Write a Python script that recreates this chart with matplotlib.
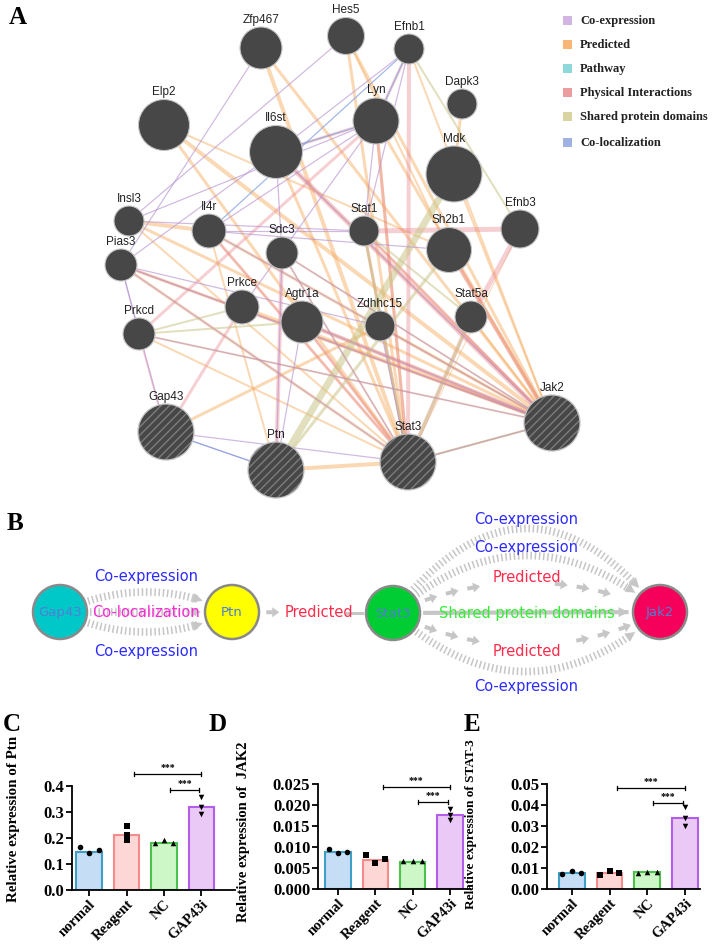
import numpy as np
import matplotlib
matplotlib.use("Agg")
import matplotlib.pyplot as plt
from matplotlib.patches import Circle, Rectangle, Polygon

W, H = 712, 946

# ---------------- panel A: GeneMANIA network ----------------
genes = ["Zfp467", "Hes5", "Efnb1", "Dapk3", "Elp2", "Il6st", "Lyn", "Mdk",
         "Insl3", "Il4r", "Sdc3", "Stat1", "Sh2b1", "Efnb3", "Pias3", "Prkce",
         "Agtr1a", "Zdhhc15", "Stat5a", "Prkcd", "Gap43", "Ptn", "Stat3", "Jak2"]
gene_score = [21, 18.5, 15, 15, 25.5, 26.5, 23, 28, 15, 17, 16, 15, 22.5, 19,
              16, 17, 21, 15, 16, 16, 28, 28, 28, 28]
query_genes = ["Gap43", "Ptn", "Stat3", "Jak2"]

network_types = ["Co-expression", "Predicted", "Pathway", "Physical Interactions",
                 "Shared protein domains", "Co-localization"]

predicted_links = [
    ("Zfp467", "Stat3", 4), ("Zfp467", "Jak2", 3), ("Hes5", "Stat3", 3), ("Hes5", "Jak2", 3),
    ("Elp2", "Jak2", 4), ("Elp2", "Stat3", 3), ("Elp2", "Sh2b1", 2), ("Il6st", "Stat3", 3),
    ("Il6st", "Jak2", 2), ("Insl3", "Il4r", 4), ("Insl3", "Jak2", 3), ("Insl3", "Stat3", 2),
    ("Il4r", "Jak2", 3), ("Il4r", "Stat3", 2), ("Il4r", "Ptn", 2), ("Pias3", "Jak2", 3),
    ("Pias3", "Stat3", 3), ("Prkcd", "Stat3", 2), ("Prkce", "Jak2", 3), ("Agtr1a", "Jak2", 3),
    ("Agtr1a", "Stat3", 2), ("Lyn", "Jak2", 3), ("Lyn", "Stat3", 3), ("Efnb1", "Jak2", 2),
    ("Mdk", "Jak2", 2), ("Dapk3", "Mdk", 3), ("Sh2b1", "Jak2", 3), ("Stat5a", "Jak2", 2),
    ("Stat1", "Jak2", 2), ("Gap43", "Zdhhc15", 3), ("Ptn", "Stat3", 4), ("Stat3", "Jak2", 2),
    ("Sdc3", "Jak2", 2), ("Zdhhc15", "Jak2", 2), ("Sdc3", "Stat3", 2), ("Hes5", "Sh2b1", 2),
    ("Prkcd", "Jak2", 2), ("Efnb3", "Stat3", 1), ("Stat1", "Stat3", 2),
]
physical_links = [
    ("Efnb1", "Stat3", 4), ("Stat1", "Efnb3", 5), ("Efnb3", "Stat5a", 5), ("Sh2b1", "Jak2", 4),
    ("Il6st", "Jak2", 5), ("Il6st", "Lyn", 3), ("Lyn", "Stat3", 3), ("Prkcd", "Gap43", 2),
    ("Prkcd", "Lyn", 3), ("Gap43", "Prkce", 3), ("Ptn", "Sdc3", 4), ("Stat1", "Stat3", 3),
    ("Stat5a", "Stat3", 4), ("Agtr1a", "Jak2", 4), ("Stat1", "Jak2", 3), ("Efnb1", "Lyn", 3),
    ("Il4r", "Stat3", 3), ("Pias3", "Jak2", 2), ("Agtr1a", "Stat3", 3),
]
shared_links = [
    ("Ptn", "Mdk", 7), ("Efnb1", "Efnb3", 2), ("Stat1", "Stat3", 3), ("Stat5a", "Stat3", 3),
    ("Prkcd", "Prkce", 2), ("Ptn", "Sh2b1", 3), ("Stat3", "Jak2", 2), ("Stat1", "Stat5a", 2),
    ("Prkcd", "Agtr1a", 2),
]
coexpression_links = [
    ("Zfp467", "Pias3"), ("Hes5", "Insl3"), ("Efnb1", "Il6st"), ("Lyn", "Insl3"), ("Lyn", "Il4r"),
    ("Il6st", "Pias3"), ("Pias3", "Jak2"), ("Pias3", "Stat3"), ("Prkcd", "Jak2"), ("Il4r", "Jak2"),
    ("Il4r", "Stat1"), ("Sdc3", "Stat3"), ("Gap43", "Ptn"), ("Stat3", "Jak2"), ("Ptn", "Agtr1a"),
    ("Il6st", "Sdc3"), ("Efnb1", "Stat1"), ("Lyn", "Stat1"), ("Agtr1a", "Jak2"), ("Zdhhc15", "Stat3"),
    ("Prkcd", "Pias3"), ("Pias3", "Zdhhc15"), ("Il6st", "Jak2"), ("Il4r", "Sh2b1"), ("Lyn", "Prkce"),
    ("Gap43", "Pias3"), ("Sdc3", "Ptn"), ("Insl3", "Stat1"), ("Gap43", "Stat3"), ("Sdc3", "Jak2"),
]
colocalization_links = [("Gap43", "Ptn"), ("Efnb1", "Il4r"), ("Lyn", "Il6st"), ("Efnb1", "Lyn")]

# node layout (pixels)
node_xy = {
    "Zfp467": (261, 48), "Hes5": (346, 36), "Efnb1": (409, 49), "Dapk3": (462, 104),
    "Elp2": (164, 125), "Il6st": (276, 152), "Lyn": (376, 121), "Mdk": (454, 174),
    "Insl3": (129, 221), "Il4r": (209, 231), "Sdc3": (282, 253), "Stat1": (364, 231),
    "Sh2b1": (449, 250), "Efnb3": (520, 229), "Pias3": (121, 265), "Prkce": (242, 307),
    "Agtr1a": (302, 322), "Zdhhc15": (380, 326), "Stat5a": (471, 317), "Prkcd": (139, 334),
    "Gap43": (166, 432), "Ptn": (276, 470), "Stat3": (408, 462), "Jak2": (552, 423),
}

# ---------------- panel B: paths Gap43 -> Jak2 ----------------
path_nodes = ["Gap43", "Ptn", "Stat3", "Jak2"]
path_node_colors = ["#00c8c8", "#ffff00", "#00cc33", "#f5005a"]
path_links = [
    ("Gap43", "Ptn", "Co-expression"), ("Gap43", "Ptn", "Co-localization"),
    ("Gap43", "Ptn", "Co-expression"), ("Ptn", "Stat3", "Predicted"),
    ("Stat3", "Jak2", "Co-expression"), ("Stat3", "Jak2", "Co-expression"),
    ("Stat3", "Jak2", "Predicted"), ("Stat3", "Jak2", "Shared protein domains"),
    ("Stat3", "Jak2", "Predicted"), ("Stat3", "Jak2", "Co-expression"),
]
# bend of each arc and label offset (pixels)
path_bend = [-40, 0, 40, 0, -168, -114, -60, 0, 66, 118]
path_label_dy = [-16, 0, 19, 0, -10, -9, -6, 0, 5, 14]
path_xy = {"Gap43": (60, 612), "Ptn": (232, 612), "Stat3": (393, 613), "Jak2": (660, 612)}

# ---------------- panels C-E: qPCR ----------------
groups = ["normal", "Reagent", "NC", "GAP43i"]
ptn_mean = [0.148, 0.213, 0.182, 0.320]
ptn_reps = [[0.164, 0.141, 0.152], [0.245, 0.212, 0.193], [0.180, 0.192, 0.180], [0.356, 0.318, 0.294]]
jak2_mean = [0.0089, 0.0070, 0.0065, 0.0177]
jak2_reps = [[0.0095, 0.0085, 0.0088], [0.0080, 0.0063, 0.0071], [0.0066, 0.0066, 0.0066], [0.0190, 0.0176, 0.0164]]
stat3_mean = [0.0078, 0.0076, 0.0079, 0.0338]
stat3_reps = [[0.0072, 0.0085, 0.0078], [0.0068, 0.0087, 0.0077], [0.0076, 0.0082, 0.0079], [0.0390, 0.0340, 0.0300]]

fig = plt.figure(figsize=(W / 100, H / 100), dpi=100)
ax = fig.add_axes([0, 0, 1, 1])
ax.set_xlim(0, W)
ax.set_ylim(H, 0)
ax.axis("off")

serif = "Liberation Serif"
sans = "Liberation Sans"
plt.rcParams["hatch.linewidth"] = 1.0

# network links
link_style = {
    "Predicted": ("#f5a95a", 0.45),
    "Physical Interactions": ("#e98790", 0.4),
    "Shared protein domains": ("#cbc689", 0.55),
    "Co-expression": ("#b793d0", 0.65),
    "Co-localization": ("#7f9ee0", 0.75),
}


def draw_links(links, kind):
    col, alpha = link_style[kind]
    for link in links:
        w = link[2] if len(link) > 2 else 1.2
        (x0, y0), (x1, y1) = node_xy[link[0]], node_xy[link[1]]
        ax.plot([x0, x1], [y0, y1], color=col, alpha=alpha, lw=w * 0.72,
                solid_capstyle="butt", zorder=1)


draw_links(predicted_links, "Predicted")
draw_links(physical_links, "Physical Interactions")
draw_links(shared_links, "Shared protein domains")
draw_links(coexpression_links, "Co-expression")
draw_links(colocalization_links, "Co-localization")

for g, r in zip(genes, gene_score):
    x, y = node_xy[g]
    if g in query_genes:
        ax.add_patch(Circle((x, y), r, fc="#474747", ec="#7d7d7d", lw=0, hatch="////", zorder=3))
        ax.add_patch(Circle((x, y), r, fill=False, ec="#c4c4c4", lw=0.9, zorder=4))
    else:
        ax.add_patch(Circle((x, y), r, fc="#474747", ec="#c4c4c4", lw=0.8, zorder=3))
    ax.text(x, y - r - 1.5, g, ha="center", va="bottom", fontsize=8.5, family=sans,
            color="#222222", zorder=5)

legend_colors = ["#d3b5e3", "#f9b776", "#8dd8da", "#eb9c9c", "#d9d3a2", "#9fb2e3"]
legend_y = [21, 45, 69, 93, 117, 143]
for name, col, ly in zip(network_types, legend_colors, legend_y):
    ax.add_patch(Rectangle((563, ly - 4.5), 9, 9, fc=col, ec="none"))
    ax.text(580, ly, name, ha="left", va="center", fontsize=9, family=serif,
            weight="bold", color="#222222")

# ---------------- panel B drawing ----------------
label_colors = {"Co-expression": "#2b2bff", "Co-localization": "#ff2bd6",
                "Predicted": "#ff2b4b", "Shared protein domains": "#33ee33"}
gray = "#c6c6c6"
rB = 27


def curve(p0, p2, bend, r0, r2, n=400):
    p0, p2 = np.array(p0, float), np.array(p2, float)
    c = (p0 + p2) / 2 + np.array([0, bend])
    t = np.linspace(0, 1, n)[:, None]
    pts = (1 - t) ** 2 * p0 + 2 * (1 - t) * t * c + t ** 2 * p2
    keep = (np.hypot(*(pts - p0).T) > r0 + 3) & (np.hypot(*(pts - p2).T) > r2 + 4)
    return pts[keep]


def arrow_head(tip, u, length=10, width=10):
    perp = np.array([-u[1], u[0]])
    base = tip - length * u
    ax.add_patch(Polygon([tip, base + perp * width / 2, base - perp * width / 2],
                         closed=True, fc=gray, ec="none", zorder=2))


def block_arrows(pts, skip_x, skip_w, spacing=22, length=13):
    seg = np.hypot(*np.diff(pts, axis=0).T)
    s = np.concatenate([[0], np.cumsum(seg)])
    pos = 4.0
    while pos + length < s[-1]:
        a = np.array([np.interp(pos, s, pts[:, 0]), np.interp(pos, s, pts[:, 1])])
        b = np.array([np.interp(pos + length, s, pts[:, 0]), np.interp(pos + length, s, pts[:, 1])])
        mid = (a + b) / 2
        if abs(mid[0] - skip_x) > skip_w:
            u = (b - a) / np.linalg.norm(b - a)
            perp = np.array([-u[1], u[0]])
            k = a + u * 6
            poly = [a + perp * 2, k + perp * 2, k + perp * 5, b, k - perp * 5, k - perp * 2, a - perp * 2]
            ax.add_patch(Polygon(poly, closed=True, fc=gray, ec="none", zorder=2))
        pos += spacing


for (src, dst, kind), bend, ldy in zip(path_links, path_bend, path_label_dy):
    pts = curve(path_xy[src], path_xy[dst], bend, rB, rB)
    lx = (path_xy[src][0] + path_xy[dst][0]) / 2
    ly = path_xy[src][1] + bend / 2 + ldy
    half = len(kind) * 3.4 + 4
    if kind == "Predicted":
        block_arrows(pts, lx + (6 if bend == 0 else 0), half)
        if bend == 0:
            ax.plot([lx + half, pts[-1, 0]], [pts[-1, 1]] * 2, color=gray, lw=2.2, zorder=2)
    elif kind == "Shared protein domains":
        ax.plot(pts[:, 0], pts[:, 1], color=gray, lw=3, solid_capstyle="butt", zorder=2)
        u = pts[-1] - pts[-6]
        arrow_head(pts[-1], u / np.linalg.norm(u))
    else:
        ax.plot(pts[:-8, 0], pts[:-8, 1], color=gray, lw=5.5, ls=(0, (0.2, 0.35)),
                solid_capstyle="butt", dash_capstyle="butt", zorder=2)
        u = pts[-1] - pts[-6]
        arrow_head(pts[-1], u / np.linalg.norm(u))
    if kind == "Predicted" and bend == 0:
        lx += 6
    ax.text(lx, ly, kind, ha="center", va="center", fontsize=10.5, family="DejaVu Sans",
            color=label_colors[kind], zorder=4)

for name, col in zip(path_nodes, path_node_colors):
    x, y = path_xy[name]
    ax.add_patch(Circle((x, y), rB, fc=col, ec="#8a8a8a", lw=1.8, zorder=3))
    ax.text(x, y, name, ha="center", va="center", fontsize=9.5, family="DejaVu Sans",
            color="#4f7fd6", zorder=4)

# panel letters
for letter, (lx, ly) in zip("ABCDE", [(18, 17), (15, 523), (12, 724), (218, 724), (472, 724)]):
    ax.text(lx, ly, letter, ha="center", va="center", fontsize=18, family=serif, weight="bold")

# ---------------- bar panels ----------------
bar_fill = ["#c6ddf6", "#fdd6d6", "#cdf7c6", "#ebc9f6"]
bar_edge = ["#3fa0c4", "#f58b8b", "#4ec24e", "#b35ee6"]
markers = ["o", "s", "^", "v"]


def bar_panel(box, xlim, means, reps, ymax, step, fmt, ylabel, label_xy, label_size,
              offsets, brackets):
    left, right, bottom, top = box
    bx = fig.add_axes([left / W, 1 - bottom / H, (right - left) / W, (bottom - top) / H])
    bx.patch.set_alpha(0)
    x = np.arange(len(groups))
    bx.bar(x, means, width=0.68, color=bar_fill, edgecolor=bar_edge, linewidth=1.5, zorder=2)
    for i in range(len(groups)):
        bx.scatter(x[i] + np.array(offsets[i]), reps[i], marker=markers[i], s=16,
                   color="black", zorder=3, clip_on=False, linewidths=0)
    bx.set_xlim(*xlim)
    bx.set_ylim(0, ymax)
    ticks = np.arange(0, ymax + step / 2, step)
    bx.set_yticks(ticks)
    bx.set_yticklabels([fmt.format(v) for v in ticks])
    bx.set_xticks(x)
    bx.set_xticklabels(groups, rotation=45, ha="right", rotation_mode="anchor")
    for sp in ["top", "right"]:
        bx.spines[sp].set_visible(False)
    for sp in ["left", "bottom"]:
        bx.spines[sp].set_linewidth(1.3)
    bx.tick_params(width=1.3, length=4, pad=1.5)
    for t in bx.get_yticklabels():
        t.set_family(serif)
        t.set_weight("bold")
        t.set_fontsize(12)
    for t in bx.get_xticklabels():
        t.set_family(serif)
        t.set_weight("bold")
        t.set_fontsize(10.5)
    bx.set_ylabel(ylabel, family=serif, weight="bold", fontsize=label_size)
    bx.yaxis.set_label_coords(*label_xy)
    for x0, x1, yb in brackets:
        cap = ymax * 0.02
        bx.plot([x0, x1], [yb, yb], color="black", lw=0.9, clip_on=False)
        bx.plot([x0, x0], [yb - cap, yb + cap], color="black", lw=0.9, clip_on=False)
        bx.plot([x1, x1], [yb - cap, yb + cap], color="black", lw=0.9, clip_on=False)
        bx.text((x0 + x1) / 2, yb + ymax * 0.02, "***", ha="center", va="bottom",
                fontsize=7, weight="bold", family=serif)
    return bx


spread = [-0.25, 0.0, 0.25]
column = [0.0, 0.0, 0.0]
bar_panel((72, 235, 890, 786), (-0.46, 3.9), ptn_mean, ptn_reps, 0.4, 0.1, "{:.1f}",
          "Relative expression of Ptn", (-0.32, 0.68), 10.8,
          [spread, column, spread, column], [(1.2, 3.0, 0.446), (2.15, 2.95, 0.385)])
bar_panel((318, 470, 889, 784), (-0.54, 3.54), jak2_mean, jak2_reps, 0.025, 0.005, "{:.3f}",
          "Relative expression of  JAK2", (-0.45, 0.55), 10.5,
          [spread, spread, spread, column], [(1.2, 3.0, 0.0243), (2.15, 2.95, 0.0207)])
bar_panel((547, 700, 889, 784), (-0.66, 3.4), stat3_mean, stat3_reps, 0.05, 0.01, "{:.2f}",
          "Relative expression of STAT-3", (-0.46, 0.62), 9.5,
          [spread, spread, spread, column], [(1.2, 3.0, 0.048), (2.15, 2.95, 0.041)])

fig.savefig("out.png", dpi=100)
